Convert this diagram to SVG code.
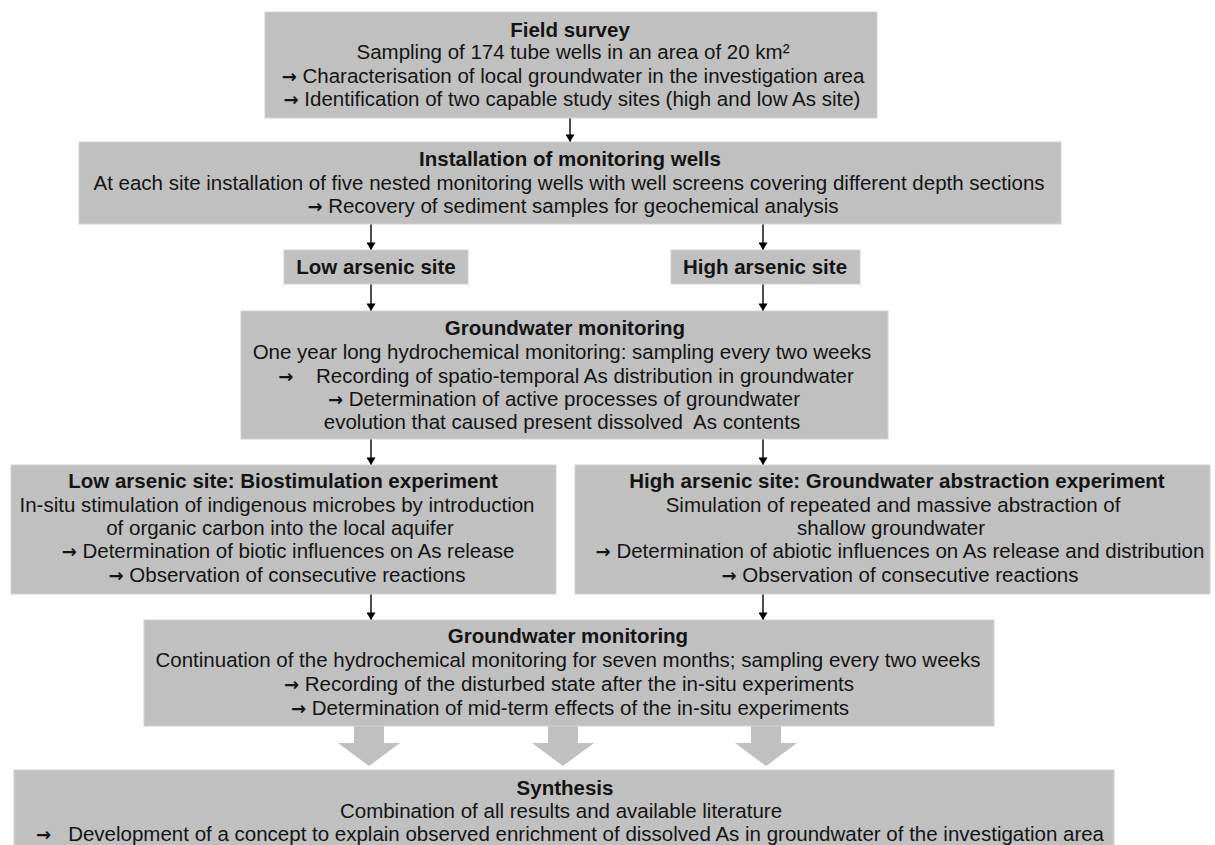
<svg xmlns="http://www.w3.org/2000/svg" width="1215" height="845" viewBox="0 0 1215 845">
<defs>
<style>
.box{fill:#c0c0c0;stroke:#d2d2d2;stroke-width:1}
text{font-family:"Liberation Sans",Arial,sans-serif;font-size:20.5px;fill:#141414;text-anchor:middle}
.t{font-weight:bold}
.a{font-family:"DejaVu Sans",sans-serif;font-weight:bold;font-size:18px}
.c{stroke:#000;stroke-width:1.4;fill:none}
.fat{fill:#c0c0c0}
</style>
<marker id="ah" viewBox="0 0 10 12" refX="10" refY="6" markerWidth="12" markerHeight="9" markerUnits="userSpaceOnUse" orient="auto">
<path d="M0,0 L10,6 L0,12 z" fill="#000"/>
</marker>
</defs>
<rect width="1215" height="845" fill="#fff"/>

<g id="connectors">
<line class="c" x1="570" y1="118" x2="570" y2="142" marker-end="url(#ah)"/>
<line class="c" x1="371" y1="224" x2="371" y2="250" marker-end="url(#ah)"/>
<line class="c" x1="763" y1="224" x2="763" y2="250" marker-end="url(#ah)"/>
<line class="c" x1="371" y1="284" x2="371" y2="311" marker-end="url(#ah)"/>
<line class="c" x1="763" y1="284" x2="763" y2="311" marker-end="url(#ah)"/>
<line class="c" x1="371" y1="439" x2="371" y2="465" marker-end="url(#ah)"/>
<line class="c" x1="763" y1="439" x2="763" y2="465" marker-end="url(#ah)"/>
<line class="c" x1="371" y1="594" x2="371" y2="620" marker-end="url(#ah)"/>
<line class="c" x1="763" y1="594" x2="763" y2="620" marker-end="url(#ah)"/>
<path class="fat" d="M354,726 H384 V743 H400 L369,766 L338,743 H354 Z"/>
<path class="fat" d="M548,726 H578 V743 H594 L563,766 L532,743 H548 Z"/>
<path class="fat" d="M751,726 H781 V743 H797 L766,766 L735,743 H751 Z"/>
</g>

<g id="field-survey">
<rect class="box" x="265" y="12" width="612" height="106"/>
<text class="t" x="570" y="37">Field survey</text>
<text x="573" y="59">Sampling of 174 tube wells in an area of 20 km²</text>
<text x="573" y="83"><tspan class="a">→</tspan> Characterisation of local groundwater in the investigation area</text>
<text x="572" y="106"><tspan class="a">→</tspan> Identification of two capable study sites (high and low As site)</text>
</g>

<g id="installation">
<rect class="box" x="79" y="142" width="982" height="82"/>
<text class="t" x="570" y="166">Installation of monitoring wells</text>
<text x="569" y="190">At each site installation of five nested monitoring wells with well screens covering different depth sections</text>
<text x="573" y="213"><tspan class="a">→</tspan> Recovery of sediment samples for geochemical analysis</text>
</g>

<g id="low-site">
<rect class="box" x="284" y="250" width="184" height="34"/>
<text class="t" x="376" y="274">Low arsenic site</text>
</g>

<g id="high-site">
<rect class="box" x="671" y="250" width="189" height="34"/>
<text class="t" x="765" y="274">High arsenic site</text>
</g>

<g id="gw-monitoring-1">
<rect class="box" x="241" y="311" width="647" height="128"/>
<text class="t" x="565" y="335">Groundwater monitoring</text>
<text x="562" y="359">One year long hydrochemical monitoring: sampling every two weeks</text>
<text x="566" y="383" xml:space="preserve"><tspan class="a">→</tspan>    Recording of spatio-temporal As distribution in groundwater</text>
<text x="564" y="406"><tspan class="a">→</tspan> Determination of active processes of groundwater</text>
<text x="562" y="429" xml:space="preserve">evolution that caused present dissolved  As contents</text>
</g>

<g id="biostimulation">
<rect class="box" x="11" y="465" width="545" height="129"/>
<text class="t" x="283" y="488">Low arsenic site: Biostimulation experiment</text>
<text x="277" y="512">In-situ stimulation of indigenous microbes by introduction</text>
<text x="280" y="535">of organic carbon into the local aquifer</text>
<text x="288" y="558"><tspan class="a">→</tspan> Determination of biotic influences on As release</text>
<text x="287" y="582"><tspan class="a">→</tspan> Observation of consecutive reactions</text>
</g>

<g id="abstraction">
<rect class="box" x="575" y="465" width="635" height="129"/>
<text class="t" x="897" y="488">High arsenic site: Groundwater abstraction experiment</text>
<text x="893" y="512">Simulation of repeated and massive abstraction of</text>
<text x="891" y="535">shallow groundwater</text>
<text x="900" y="558"><tspan class="a">→</tspan> Determination of abiotic influences on As release and distribution</text>
<text x="900" y="582"><tspan class="a">→</tspan> Observation of consecutive reactions</text>
</g>

<g id="gw-monitoring-2">
<rect class="box" x="144" y="620" width="850" height="106"/>
<text class="t" x="568" y="643">Groundwater monitoring</text>
<text x="568" y="667">Continuation of the hydrochemical monitoring for seven months; sampling every two weeks</text>
<text x="569" y="691"><tspan class="a">→</tspan> Recording of the disturbed state after the in-situ experiments</text>
<text x="570" y="715"><tspan class="a">→</tspan> Determination of mid-term effects of the in-situ experiments</text>
</g>

<g id="synthesis">
<rect class="box" x="14" y="770" width="1100" height="80"/>
<text class="t" x="565" y="795">Synthesis</text>
<text x="561" y="818">Combination of all results and available literature</text>
<text x="570" y="841" xml:space="preserve"><tspan class="a">→</tspan>   Development of a concept to explain observed enrichment of dissolved As in groundwater of the investigation area</text>
</g>
</svg>
